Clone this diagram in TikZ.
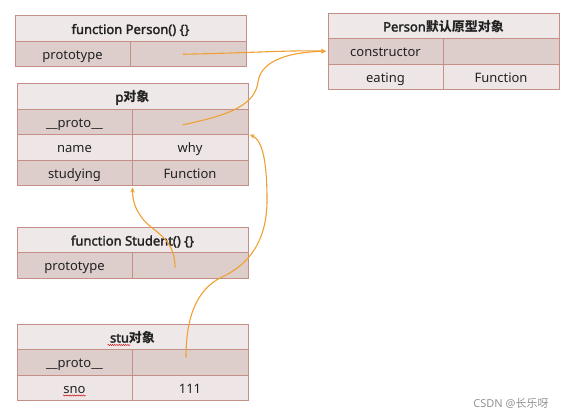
\documentclass[tikz,border=0pt]{standalone}
\usepackage{fontspec}
\setmainfont{Noto Sans}[AutoFakeBold=2.2]
\newfontfamily\cjk{Noto Sans CJK SC}
\usetikzlibrary{arrows.meta,decorations.pathmorphing}
\definecolor{bordc}{HTML}{C38F86}
\definecolor{headc}{HTML}{EFE8E8}
\definecolor{darkc}{HTML}{DDCECC}
\definecolor{lightc}{HTML}{EEE6E6}
\definecolor{arrc}{HTML}{F0A033}
\definecolor{txtc}{HTML}{222222}
\tikzset{
  cellbox/.style={draw=bordc, line width=0.9pt, inner sep=0pt, anchor=center,
    text=txtc, text height=11pt, text depth=0pt, font=\fontsize{13}{15}\selectfont},
  headbox/.style={cellbox, fill=headc, minimum width=231pt, minimum height=25.5pt,
    font=\fontsize{13}{15}\selectfont\bfseries},
  keycell/.style={cellbox, minimum width=115pt, minimum height=25.5pt},
  valcell/.style={cellbox, minimum width=116pt, minimum height=25.5pt},
  dk/.style={fill=darkc},
  lt/.style={fill=lightc},
  link/.style={draw=arrc, line width=1.1pt, shorten >=1.5pt, -{Stealth[length=5pt,width=4.5pt]}},
  squig/.style={draw=red!80!black, line width=0.4pt, decorate,
    decoration={snake, segment length=2.2pt, amplitude=0.6pt}},
  wmark/.style={text=gray!85, font=\fontsize{11}{13}\selectfont}
}
\begin{document}
\begin{tikzpicture}[x=1pt,y=-1pt]
\useasboundingbox (0,0) rectangle (576,419);
% Person function
\node[headbox] (fph) at (130.5,28.5) {function Person() \{\}};
\node[keycell,dk] (fpk) at (72.5,53.75) {prototype};
\node[valcell,dk] (fpv) at (188,53.75) {};
% Person prototype object
\node[headbox] (poh) at (443.5,26) {Person{\cjk 默认原型对象}};
\node[keycell,dk] (pck) at (385.5,51.25) {constructor};
\node[valcell,dk] (pcv) at (501,51.25) {};
\node[keycell,lt] (pek) at (385.5,76.75) {eating};
\node[valcell,lt] (pev) at (501,76.75) {Function};
% p object
\node[headbox] (ph) at (132.5,96.25) {p{\cjk 对象}};
\node[keycell,dk] (ppk) at (74.5,121.75) {\_\_proto\_\_};
\node[valcell,dk] (ppv) at (190,121.75) {};
\node[keycell,lt] (pnk) at (74.5,147.25) {name};
\node[valcell,lt] (pnv) at (190,147.25) {why};
\node[keycell,dk] (psk) at (74.5,172.75) {studying};
\node[valcell,dk] (psv) at (190,172.75) {Function};
% Student function
\node[headbox] (fsh) at (132.5,240) {function Student() \{\}};
\node[keycell,dk] (fsk) at (74.5,265.5) {prototype};
\node[valcell,dk] (fsv) at (190,265.5) {};
% stu object
\node[headbox] (sh) at (132.5,337) {stu{\cjk 对象}};
\node[keycell,dk] (spk) at (74.5,362.5) {\_\_proto\_\_};
\node[valcell,dk] (spv) at (190,362.5) {};
\node[keycell,lt] (snk) at (74.5,388) {sno};
\node[valcell,lt] (snv) at (190,388) {111};
% spell-check squiggles
\draw[squig] ([xshift=-25pt,yshift=-8pt]sh.center) -- ([xshift=-2pt,yshift=-8pt]sh.center);
\draw[squig] ([xshift=-11.5pt,yshift=-7.5pt]snk.center) -- ([xshift=11.5pt,yshift=-7.5pt]snk.center);
% connectors
\draw[link] ([xshift=-5pt,yshift=-0.5pt]fpv.center) .. controls (250,53) and (290,50) .. (pck.west);
\draw[link] ([xshift=-7pt,yshift=-3pt]ppv.center) .. controls (230,115) and (255,105) .. (258,82)
  .. controls (261,60) and (290,52) .. (pck.west);
\draw[link] ([xshift=-15pt,yshift=-2pt]fsv.center) .. controls (175,235) and (150,232) .. (140,215)
  .. controls (133,205) and (132.5,195) .. (psk.south east);
\draw[link] ([xshift=-4pt,yshift=5pt]spv.center) .. controls (186,320) and (195,290) .. (222,277)
  .. controls (250,264) and (267,240) .. (267,200)
  .. controls (267,160) and (262,140) .. (pnv.north east);
% watermark
\node[wmark] (wm) at (511,403) {CSDN @{\cjk 长乐呀}};
\end{tikzpicture}
\end{document}
